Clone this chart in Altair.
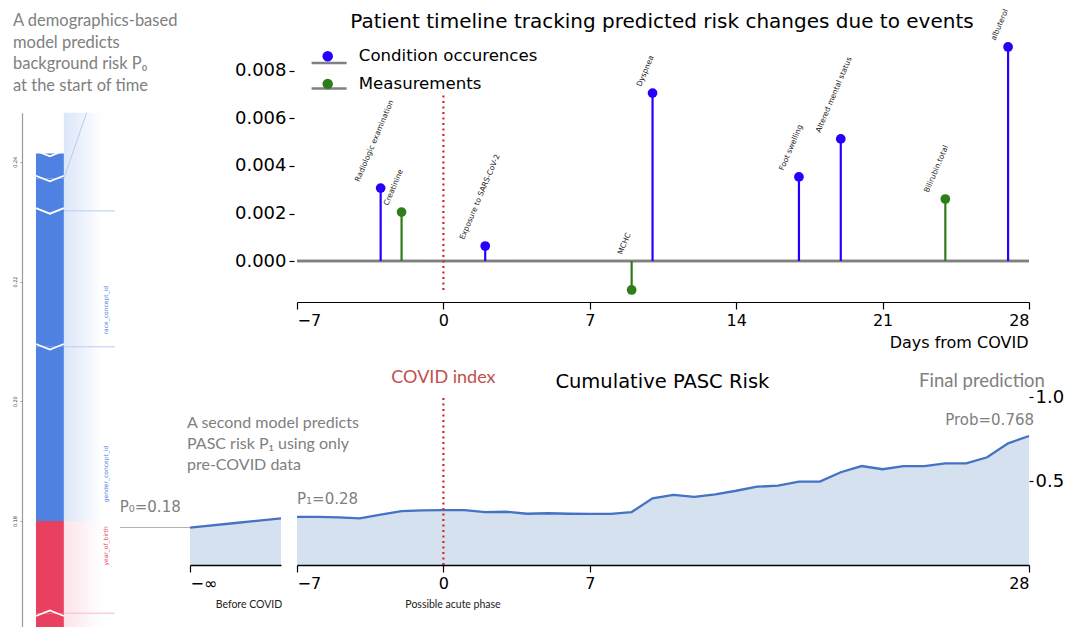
import altair as alt
import pandas as pd

# ---------------- values ----------------
event_day = [-3, -2, 2, 9, 10, 17, 19, 24, 27]
event_delta = [0.00307, 0.00206, 0.00063, -0.00122, 0.00707, 0.00354, 0.00514, 0.00261, 0.00901]
event_name = ["Radiologic examination", "Creatinine", "Exposure to SARS-CoV-2", "MCHC", "Dyspnea",
              "Foot swelling", "Altered mental status", "Bilirubin.total", "albuterol"]
event_kind = ["Condition occurences", "Measurements", "Condition occurences", "Measurements",
              "Condition occurences", "Condition occurences", "Condition occurences",
              "Measurements", "Condition occurences"]
kinds = ["Condition occurences", "Measurements"]

risk_day = list(range(-7, 29))
risk_prob = [0.287, 0.286, 0.283, 0.278, 0.300, 0.321, 0.325, 0.327, 0.327, 0.315,
             0.317, 0.305, 0.308, 0.305, 0.304, 0.304, 0.315, 0.397, 0.417, 0.405,
             0.421, 0.442, 0.466, 0.472, 0.496, 0.496, 0.552, 0.589, 0.570, 0.589,
             0.589, 0.605, 0.605, 0.641, 0.724, 0.768]

before_step = [0.0, 0.5, 1.0]
before_prob = [0.223, 0.250, 0.277]

force_feature = ["", "year_of_birth", "gender_concept_id", "race_concept_id", "", ""]
force_low = [0.1560, 0.1646, 0.1800, 0.2091, 0.2318, 0.2372]
force_high = [0.1646, 0.1800, 0.2091, 0.2318, 0.2372, 0.2414]
force_effect = ["up", "up", "down", "down", "down", "down"]

p0 = 0.18
p1 = 0.28
covid_day = 0
covid_marker_span = [-0.00122, 0.0070]
day_ticks = [-7, 0, 7, 14, 21, 28]
risk_ticks = [-7, 0, 7, 28]

# ---------------- layout / style ----------------
W, H = 1057, 619
SANS = "DejaVu Sans"
NOTE = "Lato"
GREY = "#808080"
RED_DOT = "#d62728"
KIND_BLUE, KIND_GREEN = "#2400ff", "#2f7d1a"
MINUS = "datum.value < 0 ? '\u2212' + abs(datum.value) : '' + datum.value"

one = pd.DataFrame({"k": [0]})
events = pd.DataFrame({"day": event_day, "delta": event_delta, "label": event_name, "kind": event_kind})
risk = pd.DataFrame({"day": risk_day, "prob": risk_prob})
before = pd.DataFrame({"step": before_step, "prob": before_prob})
force = pd.DataFrame({"feature": force_feature, "low": force_low, "high": force_high, "effect": force_effect})

# ======================= top panel: event stems =======================
xs_top = alt.Scale(domain=[-7, 28], range=[289, 1021], nice=False, zero=False)
ys_top = alt.Scale(domain=[-0.0017, 0.0093], range=[293.4, 32.1], nice=False, zero=False)
ax_top_x = alt.Axis(orient="bottom", offset=294 - H, values=day_ticks, labelExpr=MINUS,
                    tickSize=7, tickWidth=1.2, domainWidth=1.2, labelFontSize=16, labelPadding=3,
                    title="Days from COVID", titleFontSize=16, titleX=1020, titleY=40,
                    titleAlign="right", titleBaseline="middle", titleFontWeight="normal")
ax_top_y = alt.Axis(orient="left", offset=-286, values=[0, 0.002, 0.004, 0.006, 0.008], format=".3f",
                    domain=False, tickSize=5, tickWidth=1.2, labelFontSize=18, labelPadding=3, title=None)


def tx(f):
    return alt.X(f, scale=xs_top, axis=ax_top_x)


def ty(f):
    return alt.Y(f, scale=ys_top, axis=ax_top_y)


kind_colors = alt.Scale(domain=kinds, range=[KIND_BLUE, KIND_GREEN])

# the grey baseline; one row per legend entry so that it also yields the legend's grey lines
# (its legend keys carry a trailing space so that Vega-Lite keeps this legend apart from the dots' one)
line_keys = [k + " " for k in kinds]
baseline = alt.Chart(pd.DataFrame({"baseline_of": line_keys})).transform_calculate(
    start=str(risk_day[0]), end=str(risk_day[-1]), zero="0"
).mark_rule(color=GREY, strokeWidth=2.5).encode(
    x=tx("start:Q"), x2="end:Q", y=ty("zero:Q"),
    strokeDash=alt.StrokeDash("baseline_of:N", scale=alt.Scale(domain=line_keys, range=[[1, 0], [1, 0]]),
                              legend=alt.Legend(orient="none", legendX=312.8, legendY=46.7, title=None,
                                                symbolType="M-5,0H5", symbolSize=49,
                                                symbolStrokeColor=GREY, symbolStrokeWidth=2.5,
                                                labelExpr="''", labelFontSize=16.6, rowPadding=8.6,
                                                padding=0)))

stems = alt.Chart(events).transform_calculate(zero="0").mark_rule(strokeWidth=2.2).encode(
    x=tx("day:Q"), y=ty("zero:Q"), y2="delta:Q",
    stroke=alt.condition(alt.datum.kind == kinds[1], alt.value(KIND_GREEN), alt.value(KIND_BLUE)))

dots = alt.Chart(events).mark_circle(size=95, opacity=1).encode(
    x=tx("day:Q"), y=ty("delta:Q"),
    color=alt.Color("kind:N", scale=kind_colors,
                    legend=alt.Legend(orient="none", legendX=311.4, legendY=40, title=None,
                                      symbolType="circle", symbolSize=110, symbolStrokeWidth=0,
                                      symbolOpacity=1, labelFont=SANS, labelFontSize=16.6,
                                      labelColor="black", labelOffset=22.8, rowPadding=10.6,
                                      padding=0, labelLimit=400)))

ev_labels = alt.Chart(events).transform_calculate(
    ly="max(datum.delta, 0)",
    lx="datum.day - (7 + 0.65 * length(datum.label)) / 20.9"
).mark_text(angle=293, align="left", baseline="alphabetic", dx=5.5, dy=-2.3,
            font=SANS, fontSize=7.5, color="#1a1a1a").encode(
    x=tx("lx:Q"), y=ty("ly:Q"), text="label:N")

covid_top = alt.Chart(one).mark_rule(color=RED_DOT, strokeDash=[2, 3.5], strokeWidth=2.2).encode(
    x=alt.XDatum(covid_day, scale=xs_top, axis=ax_top_x),
    y=alt.YDatum(covid_marker_span[0], scale=ys_top, axis=ax_top_y),
    y2=alt.Y2Datum(covid_marker_span[1]))

top_title = alt.Chart(one).mark_text(
    text="Patient timeline tracking predicted risk changes due to events",
    font=SANS, fontSize=20, align="center", baseline="alphabetic", color="black").encode(
    x=alt.XDatum(10.45, scale=xs_top, axis=ax_top_x),
    y=alt.YDatum(0.00981, scale=ys_top, axis=ax_top_y))

top = alt.layer(baseline, stems, dots, ev_labels, covid_top, top_title)

# ======================= bottom panel: cumulative risk =======================
xs_bot = alt.Scale(domain=[-7, 28], range=[289, 1021], nice=False, zero=False)
ys_bot = alt.Scale(domain=[0, 1], range=[557, 389], nice=False, zero=False)
ax_bot_x = alt.Axis(orient="bottom", offset=557 - H, values=risk_ticks, labelExpr=MINUS, zindex=1,
                    tickSize=7, tickWidth=1.2, domainWidth=1.6, labelFontSize=16, labelPadding=3,
                    title="Possible acute phase", titleFont=NOTE, titleFontSize=10.5,
                    titleFontWeight="normal", titleColor="#222222", titleX=444.5, titleY=39,
                    titleAlign="center", titleBaseline="middle")
ax_bot_y = alt.Axis(orient="right", offset=1021 - W, values=[0.5, 1.0], format=".1f", domain=False,
                    tickSize=4, tickWidth=1.2, labelPadding=2, labelFontSize=18, title=None)


def bx(f):
    return alt.X(f, scale=xs_bot, axis=ax_bot_x)


def by(f):
    return alt.Y(f, scale=ys_bot, axis=ax_bot_y)


def bxd(v):
    return alt.XDatum(v, scale=xs_bot, axis=ax_bot_x)


def byd(v):
    return alt.YDatum(v, scale=ys_bot, axis=ax_bot_y)


area = alt.Chart(risk).mark_area(color="#d6e1ef", opacity=1).encode(
    x=bx("day:Q"), y=alt.Y("prob:Q", scale=ys_bot, axis=ax_bot_y, stack=None))
line = alt.Chart(risk).mark_line(color="#4472c4", strokeWidth=2.3).encode(x=bx("day:Q"), y=by("prob:Q"))
covid_bot = alt.Chart(one).mark_rule(color=RED_DOT, strokeDash=[2, 3.5], strokeWidth=2.2).encode(
    x=bxd(covid_day), y=byd(0), y2=alt.Y2Datum(1))

bot_title = alt.Chart(one).mark_text(text="Cumulative PASC Risk", font=SANS, fontSize=19.5,
                                     align="center", baseline="alphabetic", color="black").encode(
    x=bxd(10.47), y=byd(1.0536))
covid_txt = alt.Chart(one).mark_text(text="COVID index", font=NOTE, fontSize=18, align="center",
                                     baseline="alphabetic", color="#c0504d").encode(
    x=bxd(covid_day), y=byd(1.0815))
final_txt = alt.Chart(one).mark_text(text="Final prediction", font=NOTE, fontSize=18.5, align="center",
                                     baseline="alphabetic", color=GREY).encode(
    x=bxd(25.75), y=byd(1.061))
prob_txt = alt.Chart(one).mark_text(text=f"Prob={risk_prob[-1]:.3f}", font=SANS, fontSize=15,
                                    align="right", baseline="alphabetic", color=GREY).encode(
    x=bxd(28.24), y=byd(0.833))
p1_txt = alt.Chart(one).mark_text(text=f"P\u2081={p1:.2f}", font=SANS, fontSize=15, align="left",
                                  baseline="alphabetic", color=GREY).encode(
    x=bxd(risk_day[0]), y=byd(0.363))

bottom = alt.layer(area, line, covid_bot, bot_title, covid_txt, final_txt, prob_txt, p1_txt)

# ======================= before-COVID panel =======================
xs_bef = alt.Scale(domain=[0, 1], range=[182, 273], nice=False, zero=False)
ys_bef = alt.Scale(domain=[0, 1], range=[557, 389], nice=False, zero=False)
ax_bef_x = alt.Axis(orient="bottom", offset=557 - H, values=[0], labelExpr="'\u2212\u221e'", zindex=1,
                    tickSize=7, tickWidth=1.2, domainWidth=1.6, labelFontSize=16, labelPadding=3,
                    title="Before COVID", titleFont=NOTE, titleFontSize=10.5, titleFontWeight="normal",
                    titleColor="#222222", titleX=240.5, titleY=39, titleAlign="center",
                    titleBaseline="middle")


def ex(f):
    return alt.X(f, scale=xs_bef, axis=ax_bef_x)


def ey(f):
    return alt.Y(f, scale=ys_bef, axis=None)


def exd(v):
    return alt.XDatum(v, scale=xs_bef, axis=ax_bef_x)


def eyd(v):
    return alt.YDatum(v, scale=ys_bef, axis=None)


bef_area = alt.Chart(before).mark_area(color="#d6e1ef", opacity=1).encode(
    x=ex("step:Q"), y=alt.Y("prob:Q", scale=ys_bef, axis=None, stack=None))
bef_line = alt.Chart(before).mark_line(color="#4472c4", strokeWidth=2.3).encode(x=ex("step:Q"), y=ey("prob:Q"))
p0_rule = alt.Chart(one).mark_rule(color="#b0b0b0", strokeWidth=1).encode(
    x=exd(-0.77), x2=alt.X2Datum(before_step[0]), y=eyd(before_prob[0]))
p0_txt = alt.Chart(one).mark_text(text=f"P\u2080={p0:.2f}", font=SANS, fontSize=15, align="right",
                                  baseline="alphabetic", color=GREY).encode(x=exd(-0.102), y=eyd(0.317))
second_txt = alt.Chart(one).mark_text(
    text=["A second model predicts", "PASC risk P\u2081 using only", "pre-COVID data"],
    font=NOTE, fontSize=16, lineHeight=21, align="left", baseline="alphabetic", color=GREY).encode(
    x=exd(-0.033), y=eyd(0.8137))

before_panel = alt.layer(bef_area, bef_line, p0_rule, p0_txt, second_txt)

# ======================= left panel: demographic force plot =======================
xs_f = alt.Scale(domain=[0, 1], range=[14, 107], nice=False, zero=False)
ys_f = alt.Scale(domain=[0.1623, 0.2482], range=[619, 104.7], nice=False, zero=False)
ax_f_y = alt.Axis(orient="left", offset=-14, values=[0.18, 0.20, 0.22, 0.24], format=".2f",
                  labelAngle=270, labelAlign="center", labelBaseline="bottom", labelFontSize=5,
                  labelColor="#333333", tickSize=2, tickColor="#999999", domainColor="#999999",
                  domainWidth=1.2, labelPadding=3, title=None)
cs_f = alt.Scale(domain=["down", "up"], range=["#4f81e2", "#e8405e"])


def fxd(v):
    return alt.XDatum(v, scale=xs_f, axis=None)


def fy(f):
    return alt.Y(f, scale=ys_f, axis=ax_f_y)


def fyd(v):
    return alt.YDatum(v, scale=ys_f, axis=ax_f_y)


def fade(c):
    return alt.LinearGradient(gradient="linear", x1=0, y1=0, x2=1, y2=0,
                              stops=[alt.GradientStop(offset=0, color=c),
                                     alt.GradientStop(offset=1, color="#ffffff")])


shade_blue = alt.Chart(one).mark_rect(color=fade("#dbe6f8")).encode(
    x=fxd(0.45), x2=alt.X2Datum(0.86), y=fyd(p0), y2=alt.Y2Datum(0.2482))
shade_red = alt.Chart(one).mark_rect(color=fade("#fbe3e9")).encode(
    x=fxd(0.45), x2=alt.X2Datum(0.86), y=fyd(0.1623), y2=alt.Y2Datum(p0))

far_calc = "datum.effect == 'down' ? datum.high : datum.low"
connectors = alt.Chart(force).transform_filter("datum.feature != ''").transform_calculate(
    far=far_calc).mark_rule(strokeWidth=1).encode(
    x=fxd(0.45), x2=alt.X2Datum(1.0), y=fy("far:Q"),
    stroke=alt.condition(alt.datum.effect == "down", alt.value("#b7cdf3"), alt.value("#f6bccb")))
diag = alt.Chart(one).mark_rule(color="#b7cdf3", strokeWidth=1).encode(
    x=fxd(0.45), x2=alt.X2Datum(0.695), y=fyd(force_high[4]), y2=alt.Y2Datum(0.2482))

bars = alt.Chart(force).mark_rect().encode(
    x=fxd(0.15), x2=alt.X2Datum(0.45), y=fy("low:Q"), y2="high:Q",
    color=alt.Color("effect:N", scale=cs_f, legend=None))

chevrons = alt.Chart(force).transform_calculate(far=far_calc).mark_point(
    filled=False, size=784, strokeWidth=1.8, color="white", opacity=1).encode(
    x=fxd(0.30), y=fy("far:Q"),
    shape=alt.Shape("effect:N", scale=alt.Scale(domain=["down", "up"],
                                                range=["M-1,-0.2L0,0.2L1,-0.2", "M-1,0.2L0,-0.2L1,0.2"]),
                    legend=None))

f_labels = alt.Chart(force).transform_filter("datum.feature != ''").transform_calculate(
    lab="datum.effect == 'down' ? datum.low + 0.27 * (datum.high - datum.low)"
        " : datum.high - 0.27 * (datum.high - datum.low)"
).mark_text(angle=270, align="center", baseline="middle", font=SANS, fontSize=6).encode(
    x=fxd(0.905), y=fy("lab:Q"), text="feature:N",
    color=alt.Color("effect:N", scale=cs_f, legend=None))

demo_txt = alt.Chart(one).mark_text(
    text=["A demographics-based", "model predicts", "background risk P\u2080", "at the start of time"],
    font=NOTE, fontSize=16.5, lineHeight=21.7, align="left", baseline="alphabetic", color=GREY).encode(
    x=fxd(-0.097), y=fyd(0.2627))

force_panel = alt.layer(shade_blue, shade_red, connectors, diag, bars, chevrons, f_labels, demo_txt)

# ======================= assemble =======================
chart = alt.layer(force_panel, top, bottom, before_panel).resolve_scale(
    x="independent", y="independent", color="independent",
    strokeDash="independent", shape="independent"
).properties(
    width=W, height=H, padding=0, autosize=alt.AutoSizeParams(type="none"), background="white"
).configure_view(stroke=None).configure_axis(
    grid=False, labelFont=SANS, titleFont=SANS, domainColor="black", tickColor="black",
    labelColor="black", titleColor="black")

chart.save("out.html", embed_options={"renderer": "svg", "actions": False})
